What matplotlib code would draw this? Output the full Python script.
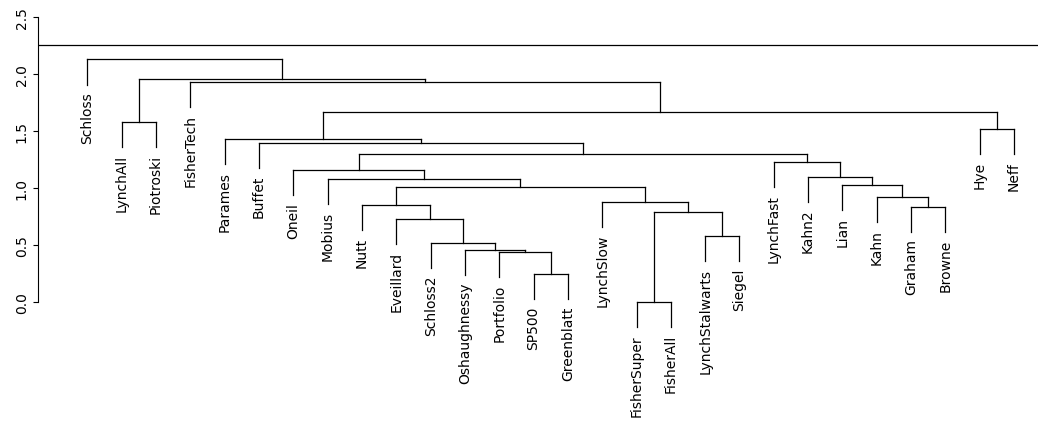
import matplotlib.pyplot as plt

labels = ["Schloss", "LynchAll", "Piotroski", "FisherTech", "Parames", "Buffet", "Oneil",
          "Mobius", "Nutt", "Eveillard", "Schloss2", "Oshaughnessy", "Portfolio", "SP500",
          "Greenblatt", "LynchSlow", "FisherSuper", "FisherAll", "LynchStalwarts", "Siegel",
          "LynchFast", "Kahn2", "Lian", "Kahn", "Graham", "Browne", "Hye", "Neff"]

# merges as (left, right, height); ints are leaf indices into labels
tree = (0, (
    (1, 2, 1.58),
    (3, (
        (4, (5, (
            (6, (7, (
                (8, (9, (10, (11, (12, (13, 14, 0.25), 0.44), 0.46), 0.52), 0.73), 0.85),
                (15, ((16, 17, 0.0), (18, 19, 0.58), 0.79), 0.88),
                1.01), 1.08), 1.16),
            (20, (21, (22, (23, (24, 25, 0.84), 0.92), 1.03), 1.10), 1.23),
            1.30), 1.40), 1.43),
        (26, 27, 1.52),
        1.67), 1.93),
    1.96), 2.13)
cut_height = 2.26
hang = 0.22

fig = plt.figure(figsize=(10.38, 4.39), dpi=100)
ax = fig.add_axes([0.037, 0.0, 0.963, 1.0])

def draw(node):
    # returns (x, top height) of node
    if isinstance(node, int):
        return node, None
    l, r, h = node
    xl, hl = draw(l)
    xr, hr = draw(r)
    for x, hc, child in ((xl, hl, l), (xr, hr, r)):
        if hc is None:
            bottom = h - hang
            ax.text(x, bottom - 0.06, labels[child], rotation=90, ha='center', va='top', fontsize=10)
        else:
            bottom = hc
        ax.plot([x, x], [bottom, h], color='black', lw=0.9)
    ax.plot([xl, xr], [h, h], color='black', lw=0.9)
    return (xl + xr) / 2, h

draw(tree)
ax.axhline(cut_height, color='black', lw=0.9)

ax.set_xlim(-1.43, 27.7)
ax.set_ylim(-1.19, 2.66)
ax.set_xticks([])
ax.set_yticks([0, 0.5, 1.0, 1.5, 2.0, 2.5])
ax.set_yticklabels(["0.0", "0.5", "1.0", "1.5", "2.0", "2.5"], rotation=90, va='center', fontsize=10)
for s in ['top', 'right', 'bottom']:
    ax.spines[s].set_visible(False)
ax.spines['left'].set_bounds(0, 2.5)
fig.savefig("out.png", dpi=100)
